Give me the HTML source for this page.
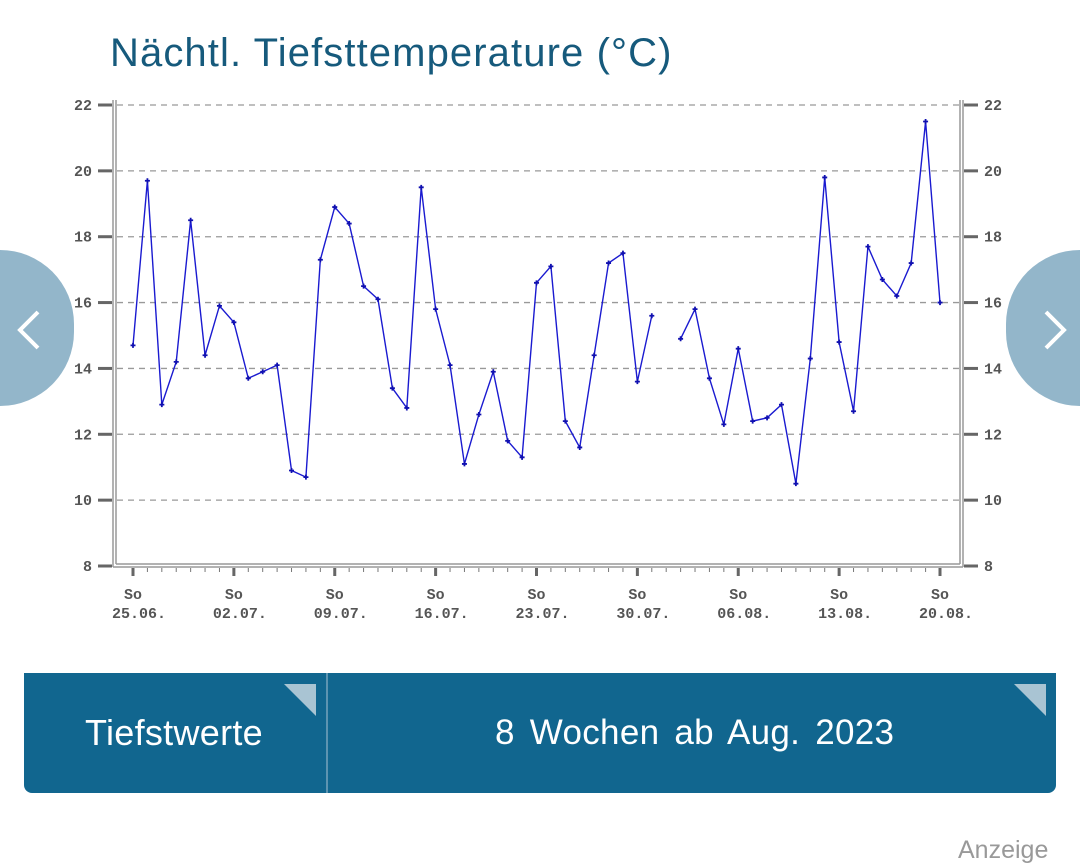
<!DOCTYPE html>
<html><head><meta charset="utf-8">
<style>
html,body{margin:0;padding:0;width:1080px;height:853px;overflow:hidden;background:#fff;font-family:"Liberation Sans",sans-serif;}
.card{position:absolute;left:24px;top:0;width:1032px;height:792px;background:#fff;}
.title{position:absolute;left:110px;top:31px;font-size:40px;color:#165a7c;letter-spacing:1.1px;}
.arrow{position:absolute;top:250px;width:74px;height:156px;background:#93b6ca;}
.bar{position:absolute;left:24px;top:673px;width:1032px;height:120px;background:#11668f;border-radius:0 0 8px 8px;color:#fff;font-size:35px;}
</style></head><body>
<div class="card"></div>
<div class="title">Nächtl. Tiefsttemperature (°C)</div>
<svg id="chart" width="1080" height="660" style="position:absolute;left:0;top:0" font-family="'Liberation Mono',monospace" font-weight="bold" font-size="15" fill="#555"></svg>
<div class="arrow" style="left:0;border-radius:0 78px 78px 0;"><svg width="74" height="156"><polyline points="38,62 20,80 38,98" fill="none" stroke="#fff" stroke-width="4"/></svg></div>
<div class="arrow" style="left:1006px;border-radius:78px 0 0 78px;"><svg width="74" height="156"><polyline points="40,62 58,80 40,98" fill="none" stroke="#fff" stroke-width="4"/></svg></div>
<div class="bar">
  <div style="position:absolute;left:0;top:0;width:303px;height:120px;">
    <span style="position:absolute;left:61px;top:39px;font-size:36px;letter-spacing:0.3px;">Tiefstwerte</span>
    <svg style="position:absolute;left:258px;top:9px" width="36" height="36"><polygon points="2,2 34,2 34,34" fill="#a9c4d3"/></svg>
  </div>
  <div style="position:absolute;left:302px;top:0;width:2px;height:120px;background:#5d94b1"></div>
  <div style="position:absolute;left:304px;top:0;width:728px;height:120px;">
    <span style="position:absolute;left:167px;top:40px;word-spacing:5px;letter-spacing:0.3px;">8 Wochen ab Aug. 2023</span>
    <svg style="position:absolute;left:684px;top:9px" width="36" height="36"><polygon points="2,2 34,2 34,34" fill="#a9c4d3"/></svg>
  </div>
</div>
<div style="position:absolute;left:958px;top:836px;font-size:25px;color:#999;">Anzeige</div>
<script>
const values=[14.7,19.7,12.9,14.2,18.5,14.4,15.9,15.4,13.7,13.9,14.1,10.9,10.7,17.3,18.9,18.4,16.5,16.1,13.4,12.8,19.5,15.8,14.1,11.1,12.6,13.9,11.8,11.3,16.6,17.1,12.4,11.6,14.4,17.2,17.5,13.6,15.6,null,14.9,15.8,13.7,12.3,14.6,12.4,12.5,12.9,10.5,14.3,19.8,14.8,12.7,17.7,16.7,16.2,17.2,21.5,16.0];
const yTicks=[8,10,12,14,16,18,20,22];
const weekLabels=["25.06.","02.07.","09.07.","16.07.","23.07.","30.07.","06.08.","13.08.","20.08."];
const NS='http://www.w3.org/2000/svg';
const svg=document.getElementById('chart');
const x=d=>133+d*(807/56);
const y=v=>105+(22-v)*(461/14);
function mk(t,a,p){const e=document.createElementNS(NS,t);for(const k in a)e.setAttribute(k,a[k]);(p||svg).appendChild(e);return e;}
yTicks.forEach(v=>{
  if(v>8){const g=mk('line',{x1:117,x2:960,y1:y(v),y2:y(v),stroke:'#999','stroke-width':1.3,'stroke-dasharray':'6,5'});
  
  }
  mk('rect',{x:98,y:y(v)-1.5,width:14,height:3,fill:'#666'});
  mk('rect',{x:964,y:y(v)-1.5,width:14,height:3,fill:'#666'});
  const l=mk('text',{x:92,y:y(v)+5,'text-anchor':'end'});l.textContent=v;
  
  
  const r=mk('text',{x:984,y:y(v)+5});r.textContent=v;
  
  
});
mk('line',{x1:113,x2:113,y1:100,y2:567,stroke:'#999','stroke-width':1.5});
mk('line',{x1:116,x2:116,y1:100,y2:564,stroke:'#999','stroke-width':1.5});
mk('line',{x1:963,x2:963,y1:100,y2:567,stroke:'#999','stroke-width':1.5});
mk('line',{x1:960,x2:960,y1:100,y2:564,stroke:'#999','stroke-width':1.5});
mk('line',{x1:113,x2:963,y1:567,y2:567,stroke:'#999','stroke-width':1.5});
mk('line',{x1:116,x2:960,y1:564,y2:564,stroke:'#999','stroke-width':1.5});
for(let d=0;d<values.length;d++){
  if(d%7===0){mk('rect',{x:x(d)-1.5,y:568,width:3,height:8,fill:'#666'});}
  else mk('line',{x1:x(d),x2:x(d),y1:568,y2:572,stroke:'#777','stroke-width':1});
}
weekLabels.forEach((lab,i)=>{
  const s=mk('text',{x:x(i*7),y:599,'text-anchor':'middle'});s.textContent='So';
  
  
  const t=mk('text',{x:x(i*7)+6,y:618,'text-anchor':'middle'});t.textContent=lab;
  
  
});
let seg=[];const segs=[];
values.forEach((v,d)=>{if(v===null){if(seg.length)segs.push(seg);seg=[];}else seg.push([x(d),y(v)]);});
if(seg.length)segs.push(seg);
segs.forEach(s=>{
  const p=mk('polyline',{points:s.map(q=>q.join(',')).join(' '),fill:'none',stroke:'#1a1ad0','stroke-width':1.4});
  
  
});
values.forEach((v,d)=>{if(v===null)return;
  const c=mk('path',{d:`M${x(d)-2.5},${y(v)}h5M${x(d)},${y(v)-2.5}v5`,stroke:'#1010b0','stroke-width':1.8});
  
  
});
</script>
</body></html>
